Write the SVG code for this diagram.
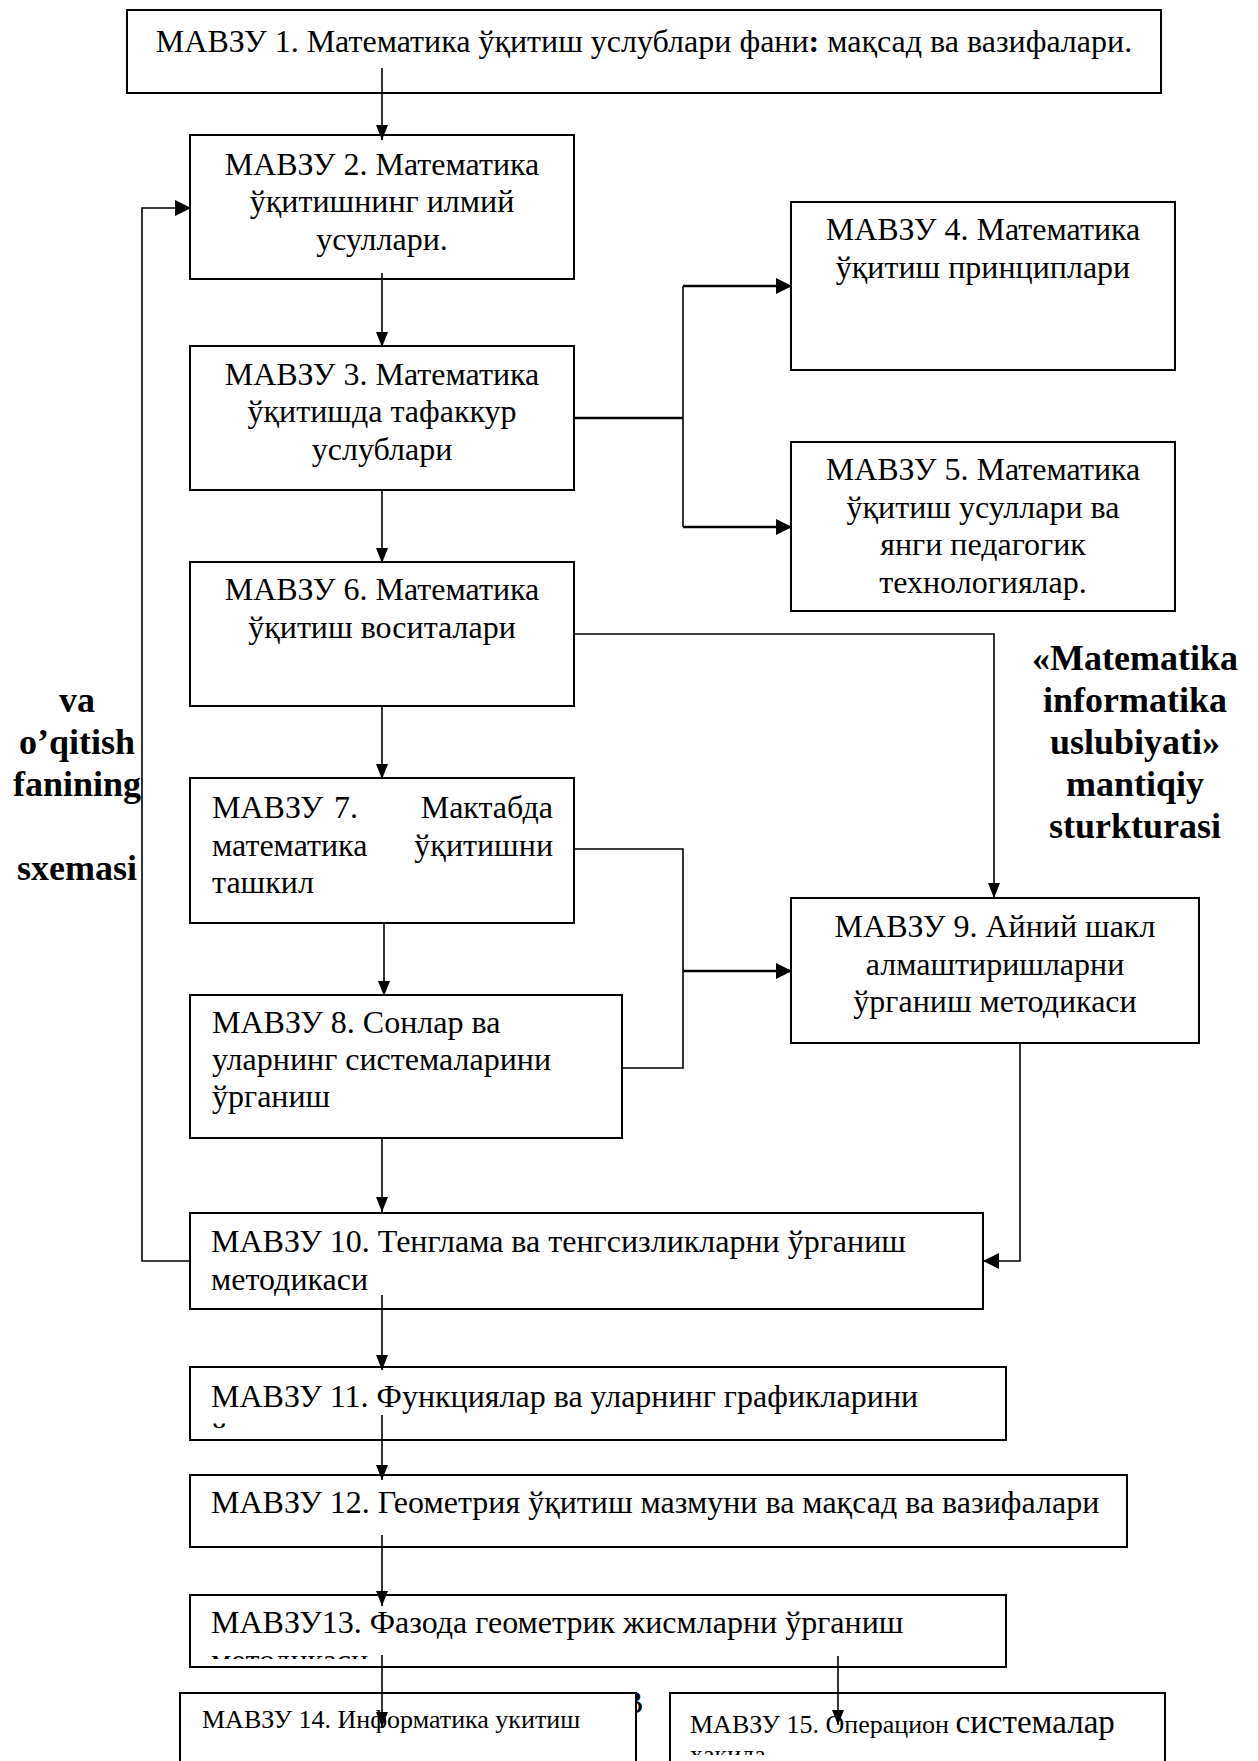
<svg xmlns="http://www.w3.org/2000/svg" width="1258" height="1761" viewBox="0 0 1258 1761">
<style>
.box{fill:#fff;stroke:#000;stroke-width:2}
.t{font-family:"Liberation Serif","Times New Roman",serif;font-size:32px;fill:#000}
.c{text-anchor:middle}
.e{text-anchor:end}
.s{font-size:26px}
.b{font-family:"Liberation Serif","Times New Roman",serif;font-size:36px;font-weight:bold;fill:#000;text-anchor:middle}
.ln{fill:none;stroke:#000;stroke-width:1.6}
.lh{fill:none;stroke:#000;stroke-width:2.4}
</style>
<defs>
<marker id="arr" markerUnits="userSpaceOnUse" markerWidth="16" markerHeight="12" refX="15" refY="6" orient="auto">
<path d="M0,0 L15,6 L0,12 z" fill="#000"/>
</marker>
<marker id="arrB" markerUnits="userSpaceOnUse" markerWidth="17" markerHeight="16" refX="16" refY="8" orient="auto">
<path d="M0,0 L16,8 L0,16 z" fill="#000"/>
</marker>
<clipPath id="cl11"><rect x="190" y="1367" width="816" height="63"/></clipPath>
<clipPath id="cl13"><rect x="190" y="1595" width="816" height="64"/></clipPath>
<clipPath id="cl15"><rect x="670" y="1693" width="495" height="62"/></clipPath>
<clipPath id="clv"><rect x="637" y="1680" width="30" height="40"/></clipPath>
</defs>
<rect width="1258" height="1761" fill="#fff"/>

<g id="n1"><rect class="box" x="127" y="10" width="1034" height="83"/>
<text class="t c" x="644" y="52">МАВЗУ 1. Математика ўқитиш услублари фани<tspan font-weight="bold">:</tspan> мақсад ва вазифалари.</text></g>

<g id="n2"><rect class="box" x="190" y="135" width="384" height="144"/>
<text class="t c" x="382" y="175">МАВЗУ 2. Математика</text>
<text class="t c" x="382" y="212">ўқитишнинг илмий</text>
<text class="t c" x="382" y="250">усуллари.</text></g>

<g id="n3"><rect class="box" x="190" y="346" width="384" height="144"/>
<text class="t c" x="382" y="385">МАВЗУ 3. Математика</text>
<text class="t c" x="382" y="422">ўқитишда тафаккур</text>
<text class="t c" x="382" y="460">услублари</text></g>

<g id="n4"><rect class="box" x="791" y="202" width="384" height="168"/>
<text class="t c" x="983" y="240">МАВЗУ 4. Математика</text>
<text class="t c" x="983" y="278">ўқитиш принциплари</text></g>

<g id="n5"><rect class="box" x="791" y="442" width="384" height="169"/>
<text class="t c" x="983" y="480">МАВЗУ 5. Математика</text>
<text class="t c" x="983" y="518">ўқитиш усуллари ва</text>
<text class="t c" x="983" y="555">янги педагогик</text>
<text class="t c" x="983" y="593">технологиялар.</text></g>

<g id="n6"><rect class="box" x="190" y="562" width="384" height="144"/>
<text class="t c" x="382" y="600">МАВЗУ 6. Математика</text>
<text class="t c" x="382" y="638">ўқитиш воситалари</text></g>

<g id="n7"><rect class="box" x="190" y="778" width="384" height="145"/>
<text class="t" x="212" y="818">МАВЗУ</text>
<text class="t c" x="346" y="818">7.</text>
<text class="t e" x="553" y="818">Мактабда</text>
<text class="t" x="212" y="856">математика</text>
<text class="t e" x="553" y="856">ўқитишни</text>
<text class="t" x="212" y="893">ташкил</text></g>

<g id="n8"><rect class="box" x="190" y="995" width="432" height="143"/>
<text class="t" x="212" y="1033">МАВЗУ 8. Сонлар ва</text>
<text class="t" x="212" y="1070">уларнинг системаларини</text>
<text class="t" x="212" y="1107">ўрганиш</text></g>

<g id="n9"><rect class="box" x="791" y="898" width="408" height="145"/>
<text class="t c" x="995" y="937">МАВЗУ 9. Айний шакл</text>
<text class="t c" x="995" y="975">алмаштиришларни</text>
<text class="t c" x="995" y="1012">ўрганиш методикаси</text></g>

<g id="n10"><rect class="box" x="190" y="1213" width="793" height="96"/>
<text class="t" x="211" y="1252">МАВЗУ 10. Тенглама ва тенгсизликларни ўрганиш</text>
<text class="t" x="211" y="1290">методикаси</text></g>

<g id="n11"><rect class="box" x="190" y="1367" width="816" height="73"/>
<text class="t" x="211" y="1407">МАВЗУ 11. Функциялар ва уларнинг графикларини</text>
<text class="t" x="211" y="1445" clip-path="url(#cl11)">ўрганиш</text></g>

<g id="n12"><rect class="box" x="190" y="1475" width="937" height="72"/>
<text class="t" x="211" y="1513">МАВЗУ 12. Геометрия ўқитиш мазмуни ва мақсад ва вазифалари</text></g>

<g id="n13"><rect class="box" x="190" y="1595" width="816" height="72"/>
<text class="t" x="211" y="1633">МАВЗУ13. Фазода геометрик жисмларни ўрганиш</text>
<text class="t" x="211" y="1671" clip-path="url(#cl13)">методикаси</text></g>

<g id="n14"><rect class="box" x="180" y="1693" width="456" height="90"/>
<text class="t s" x="202" y="1728">МАВЗУ 14. Информатика укитиш</text></g>

<text class="t" x="622" y="1713" clip-path="url(#clv)">В</text>

<g id="n15"><rect class="box" x="670" y="1693" width="495" height="90"/>
<text class="t s" x="690" y="1733">МАВЗУ 15. Операцион <tspan font-size="33">системалар</tspan></text>
<text class="t s" x="690" y="1763" clip-path="url(#cl15)">ҳақида</text></g>

<g id="title-right">
<text class="b" x="1135" y="670">«Matematika</text>
<text class="b" x="1135" y="712">informatika</text>
<text class="b" x="1135" y="754">uslubiyati»</text>
<text class="b" x="1135" y="796">mantiqiy</text>
<text class="b" x="1135" y="838">sturkturasi</text>
</g>
<g id="title-left">
<text class="b" x="77" y="712">va</text>
<text class="b" x="77" y="754">o’qitish</text>
<text class="b" x="77" y="796">fanining</text>
<text class="b" x="77" y="880">sxemasi</text>
</g>

<g id="connectors">
<path class="ln" d="M382,68 V140" marker-end="url(#arr)"/>
<path class="ln" d="M382,273 V347" marker-end="url(#arr)"/>
<path class="ln" d="M382,490 V563" marker-end="url(#arr)"/>
<path class="ln" d="M382,706 V779" marker-end="url(#arr)"/>
<path class="ln" d="M384,923 V996" marker-end="url(#arr)"/>
<path class="ln" d="M382,1138 V1212" marker-end="url(#arr)"/>
<path class="ln" d="M382,1295 V1370" marker-end="url(#arr)"/>
<path class="ln" d="M382,1415 V1480" marker-end="url(#arr)"/>
<path class="ln" d="M382,1535 V1606" marker-end="url(#arr)"/>
<path class="ln" d="M382,1655 V1727" marker-end="url(#arr)"/>
<path class="ln" d="M838,1656 V1725" marker-end="url(#arr)"/>
<path class="lh" d="M574,418 H683"/>
<path class="ln" d="M683,286 V527"/>
<path class="lh" d="M683,286 H792" marker-end="url(#arrB)"/>
<path class="lh" d="M683,527 H792" marker-end="url(#arrB)"/>
<path class="ln" d="M574,634 H994 V898" marker-end="url(#arr)"/>
<path class="ln" d="M574,849 H683 V1068 H622"/>
<path class="lh" d="M683,971 H792" marker-end="url(#arrB)"/>
<path class="ln" d="M1020,1043 V1261 H983" marker-end="url(#arrB)"/>
<path class="ln" d="M190,1261 H142 V208 H191" marker-end="url(#arrB)"/>
</g>
</svg>
